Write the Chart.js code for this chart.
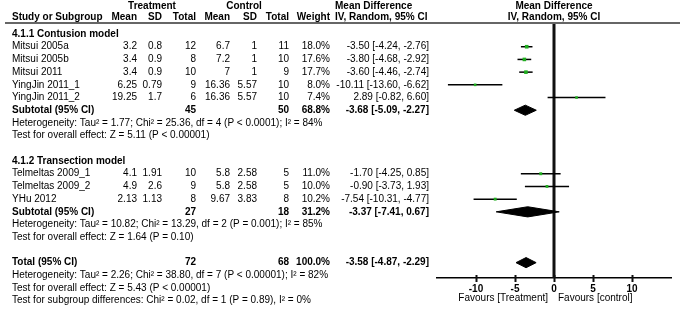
<!DOCTYPE html>
<html>
<head>
<meta charset="utf-8">
<script src="https://cdn.jsdelivr.net/npm/chart.js@4/dist/chart.umd.min.js"></script>
<style>
    body { margin: 0; background: #fff; }
</style>
</head>
<body>
<canvas id="forest" width="683" height="315"></canvas>
<script>
/********************************/
/* Forest plot data */
/********************************/

const studies = ['Mitsui 2005a', 'Mitsui 2005b', 'Mitsui 2011', 'YingJin 2011_1', 'YingJin 2011_2',
    'Telmeltas 2009_1', 'Telmeltas 2009_2', 'YHu 2012'];
const studyGroup = [0, 0, 0, 0, 0, 1, 1, 1];
const trtMean = [3.2, 3.4, 3.4, 6.25, 19.25, 4.1, 4.9, 2.13];
const trtSD = [0.8, 0.9, 0.9, 0.79, 1.7, 1.91, 2.6, 1.13];
const trtN = [12, 8, 10, 9, 6, 10, 9, 8];
const ctlMean = [6.7, 7.2, 7, 16.36, 16.36, 5.8, 5.8, 9.67];
const ctlSD = [1, 1, 1, 5.57, 5.57, 2.58, 2.58, 3.83];
const ctlN = [11, 10, 9, 10, 10, 5, 5, 8];
const weights = [18.0, 17.6, 17.7, 8.0, 7.4, 11.0, 10.0, 10.2];
const md = [-3.50, -3.80, -3.60, -10.11, 2.89, -1.70, -0.90, -7.54];
const mdLow = [-4.24, -4.68, -4.46, -13.60, -0.82, -4.25, -3.73, -10.31];
const mdHigh = [-2.76, -2.92, -2.74, -6.62, 6.60, 0.85, 1.93, -4.77];

const groupNames = ['4.1.1 Contusion model', '4.1.2 Transection model'];
const groupTrtN = [45, 27];
const groupCtlN = [50, 18];
const groupWeight = [68.8, 31.2];
const groupMd = [-3.68, -3.37];
const groupLow = [-5.09, -7.41];
const groupHigh = [-2.27, 0.67];
const groupHet = [
    'Heterogeneity: Tau² = 1.77; Chi² = 25.36, df = 4 (P < 0.0001); I² = 84%',
    'Heterogeneity: Tau² = 10.82; Chi² = 13.29, df = 2 (P = 0.001); I² = 85%'
];
const groupTest = [
    'Test for overall effect: Z = 5.11 (P < 0.00001)',
    'Test for overall effect: Z = 1.64 (P = 0.10)'
];

const totalTrtN = 72;
const totalCtlN = 68;
const totalWeight = 100.0;
const totalMd = -3.58;
const totalLow = -4.87;
const totalHigh = -2.29;
const totalNotes = [
    'Heterogeneity: Tau² = 2.26; Chi² = 38.80, df = 7 (P < 0.00001); I² = 82%',
    'Test for overall effect: Z = 5.43 (P < 0.00001)',
    'Test for subgroup differences: Chi² = 0.02, df = 1 (P = 0.89), I² = 0%'
];

const xTicks = [-10, -5, 0, 5, 10];
const xMin = -15;
const xMax = 15;

/********************************/
/* Layout */
/********************************/

const FONT = '"Liberation Sans", Arial, sans-serif';
const colRight = [137, 162, 196, 230, 257, 289, 330]; // T mean, sd, n, C mean, sd, n, weight
const ciRight = 429;
const nameLeft = 12;
const diamondHalf = 0.4; // in rows
const yMin = -0.79;
const yMax = 19.21;

function fmtCI(m, l, h) {
    return m.toFixed(2) + ' [' + l.toFixed(2) + ', ' + h.toFixed(2) + ']';
}

// walk the groups and give every printed line a row index
let rows = [];
let studyRow = [];
let groupRow = [];
let k = 0;
groupNames.forEach((name, g) => {
    rows.push({ k: k++, kind: 'group', text: name });
    studies.forEach((s, i) => {
        if (studyGroup[i] === g) {
            studyRow[i] = k;
            rows.push({ k: k++, kind: 'study', i });
        }
    });
    groupRow[g] = k;
    rows.push({ k: k++, kind: 'subtotal', g });
    rows.push({ k: k++, kind: 'note', text: groupHet[g] });
    rows.push({ k: k++, kind: 'note', text: groupTest[g] });
    k++; // blank line
});
const totalRow = k;
rows.push({ k: k++, kind: 'total' });
totalNotes.forEach(t => rows.push({ k: k++, kind: 'note', text: t }));

function diamond(m, l, h, r) {
    return [
        { x: l, y: r }, { x: m, y: r - diamondHalf }, { x: h, y: r },
        { x: m, y: r + diamondHalf }, { x: l, y: r }
    ];
}

let datasets = [];

// green squares, sized by weight
datasets.push({
    data: md.map((m, i) => ({ x: m, y: studyRow[i] })),
    showLine: false,
    pointStyle: 'rect',
    pointRadius: weights.map(w => 1.3 + w * 0.07),
    backgroundColor: '#1fae1f',
    borderWidth: 0
});

// confidence interval lines
md.forEach((m, i) => {
    datasets.push({
        data: [{ x: mdLow[i], y: studyRow[i] }, { x: mdHigh[i], y: studyRow[i] }],
        borderColor: '#000',
        borderWidth: 1.5,
        pointRadius: 0
    });
});

// summary diamonds
groupMd.forEach((m, g) => {
    datasets.push({
        data: diamond(m, groupLow[g], groupHigh[g], groupRow[g]),
        borderColor: '#000',
        backgroundColor: '#000',
        borderWidth: 1,
        pointRadius: 0,
        fill: 'shape'
    });
});
datasets.push({
    data: diamond(totalMd, totalLow, totalHigh, totalRow),
    borderColor: '#000',
    backgroundColor: '#000',
    borderWidth: 1,
    pointRadius: 0,
    fill: 'shape'
});

// line of no effect
datasets.push({
    data: [{ x: 0, y: yMin }, { x: 0, y: yMax }],
    borderColor: '#111',
    borderWidth: 3,
    pointRadius: 0
});

function txt(ctx, s, x, y, align, bold) {
    ctx.font = (bold ? 'bold ' : '') + '10px ' + FONT;
    ctx.textAlign = align;
    ctx.fillText(s, x, y);
}

const tablePlugin = {
    id: 'table',
    afterDraw(chart) {
        const ctx = chart.ctx;
        const y = chart.scales.y;
        const x = chart.scales.x;
        const area = chart.chartArea;
        const mid = (area.left + area.right) / 2;
        ctx.save();
        ctx.fillStyle = '#000';
        ctx.textBaseline = 'middle';

        // header
        txt(ctx, 'Treatment', 152, 6, 'center', true);
        txt(ctx, 'Control', 244, 6, 'center', true);
        txt(ctx, 'Study or Subgroup', nameLeft, 17, 'left', true);
        ['Mean', 'SD', 'Total', 'Mean', 'SD', 'Total', 'Weight'].forEach((h, c) => {
            txt(ctx, h, colRight[c], 17, 'right', true);
        });
        txt(ctx, 'Mean Difference', 335, 6, 'left', true);
        txt(ctx, 'IV, Random, 95% CI', 335, 17, 'left', true);
        txt(ctx, 'Mean Difference', mid, 6, 'center', true);
        txt(ctx, 'IV, Random, 95% CI', mid, 17, 'center', true);

        ctx.strokeStyle = '#333';
        ctx.lineWidth = 1.5;
        ctx.beginPath();
        ctx.moveTo(5, 23);
        ctx.lineTo(680, 23);
        ctx.stroke();

        // tick marks crossing the axis
        ctx.strokeStyle = '#111';
        ctx.lineWidth = 2;
        xTicks.forEach(v => {
            const px = Math.round(x.getPixelForValue(v)) + 0.5;
            ctx.beginPath();
            ctx.moveTo(px, area.bottom - 3);
            ctx.lineTo(px, area.bottom + 4);
            ctx.stroke();
        });

        rows.forEach(r => {
            const py = y.getPixelForValue(r.k);
            if (r.kind === 'group') {
                txt(ctx, r.text, nameLeft, py, 'left', true);
            } else if (r.kind === 'note') {
                txt(ctx, r.text, nameLeft, py, 'left', false);
            } else if (r.kind === 'study') {
                const i = r.i;
                const vals = [trtMean[i], trtSD[i], trtN[i], ctlMean[i], ctlSD[i], ctlN[i], weights[i].toFixed(1) + '%'];
                txt(ctx, studies[i], nameLeft, py, 'left', false);
                vals.forEach((v, c) => txt(ctx, String(v), colRight[c], py, 'right', false));
                txt(ctx, fmtCI(md[i], mdLow[i], mdHigh[i]), ciRight, py, 'right', false);
            } else if (r.kind === 'subtotal') {
                const g = r.g;
                txt(ctx, 'Subtotal (95% CI)', nameLeft, py, 'left', true);
                txt(ctx, String(groupTrtN[g]), colRight[2], py, 'right', true);
                txt(ctx, String(groupCtlN[g]), colRight[5], py, 'right', true);
                txt(ctx, groupWeight[g].toFixed(1) + '%', colRight[6], py, 'right', true);
                txt(ctx, fmtCI(groupMd[g], groupLow[g], groupHigh[g]), ciRight, py, 'right', true);
            } else if (r.kind === 'total') {
                txt(ctx, 'Total (95% CI)', nameLeft, py, 'left', true);
                txt(ctx, String(totalTrtN), colRight[2], py, 'right', true);
                txt(ctx, String(totalCtlN), colRight[5], py, 'right', true);
                txt(ctx, totalWeight.toFixed(1) + '%', colRight[6], py, 'right', true);
                txt(ctx, fmtCI(totalMd, totalLow, totalHigh), ciRight, py, 'right', true);
            }
        });

        // favours labels under the axis
        const zero = x.getPixelForValue(0);
        txt(ctx, 'Favours [Treatment]', zero - 6, 298, 'right', false);
        txt(ctx, 'Favours [control]', zero + 4, 298, 'left', false);
        ctx.restore();
    }
};

new Chart(document.getElementById('forest'), {
    type: 'line',
    data: { datasets },
    options: {
        responsive: false,
        animation: false,
        layout: { padding: { left: 437, right: 12, top: 24, bottom: 17 } },
        plugins: {
            legend: { display: false },
            tooltip: { enabled: false }
        },
        scales: {
            x: {
                type: 'linear',
                min: xMin,
                max: xMax,
                afterBuildTicks: (scale) => { scale.ticks = xTicks.map(v => ({ value: v })); },
                afterFit: (scale) => { scale.height = 20; },
                grid: { display: false, drawTicks: true, tickLength: 4 },
                border: { display: true, color: '#000', width: 1.5 },
                ticks: {
                    color: '#000',
                    padding: 1,
                    font: { family: FONT, size: 10, weight: 'bold' }
                }
            },
            y: {
                type: 'linear',
                display: false,
                reverse: true,
                min: yMin,
                max: yMax
            }
        }
    },
    plugins: [tablePlugin]
});
</script>
</body>
</html>
